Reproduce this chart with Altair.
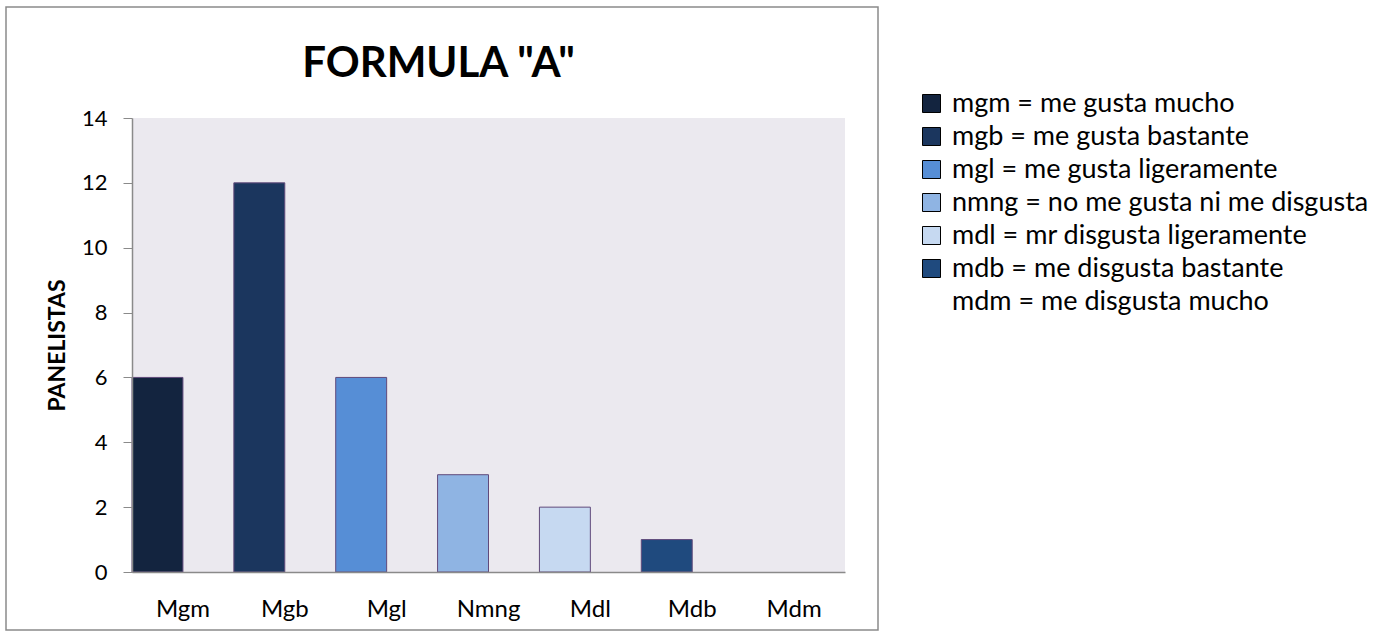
import altair as alt
import pandas as pd

categories = ["Mgm", "Mgb", "Mgl", "Nmng", "Mdl", "Mdb", "Mdm"]
values = [6, 12, 6, 3, 2, 1, 0]
legend_labels = [
    "mgm = me gusta mucho",
    "mgb = me gusta bastante",
    "mgl = me gusta ligeramente",
    "nmng = no me gusta ni me disgusta",
    "mdl = mr disgusta ligeramente",
    "mdb = me disgusta bastante",
    "mdm = me disgusta mucho",
]
colors = ["#13243f", "#1b365e", "#568ed6", "#8fb4e3", "#c6d9f1", "#1f4a7e", "#ffffff"]
y_ticks = [0, 2, 4, 6, 8, 10, 12, 14]

df = pd.DataFrame({
    "cat": categories,
    "val": values,
    "leg": legend_labels,
    "slot": ["a"] * len(categories),
})

FONT = "Lato"

bars = alt.Chart(df).mark_bar(stroke="#604a7b", strokeWidth=1).encode(
    x=alt.X("cat:N", sort=categories,
            scale=alt.Scale(paddingInner=0, paddingOuter=0),
            axis=alt.Axis(title=None, labelAngle=0, ticks=False, labelPadding=25,
                          labelFontSize=24, labelFont=FONT, labelColor="#000000",
                          domainColor="#8a8a8a", domainWidth=1.5, zindex=1)),
    xOffset=alt.XOffset("slot:N", scale=alt.Scale(domain=["a", "b"], paddingInner=0, paddingOuter=0)),
    y=alt.Y("val:Q", scale=alt.Scale(domain=[0, 14], nice=False),
            axis=alt.Axis(title="PANELISTAS", values=y_ticks, grid=False, tickSize=9,
                          tickColor="#8a8a8a", domainColor="#8a8a8a", domainWidth=1.5,
                          labelFontSize=22, labelFont=FONT, labelColor="#000000", labelPadding=16,
                          titleFont=FONT, titleFontSize=23, titleFontWeight="bold",
                          titleColor="#000000", titleX=-68, titleY=227,
                          titleBaseline="alphabetic", zindex=1)),
    strokeOpacity=alt.condition("datum.val > 0", alt.value(1), alt.value(0)),
    color=alt.Color("leg:N", sort=legend_labels,
                    scale=alt.Scale(domain=legend_labels, range=colors),
                    legend=alt.Legend(title=None, orient="none", legendX=786, legendY=-28,
                                      symbolType="square", symbolSize=324,
                                      symbolStrokeColor={"expr": "datum.value === 'mdm = me disgusta mucho' ? 'transparent' : '#000000'"},
                                      symbolStrokeWidth=1,
                                      symbolOpacity=1,
                                      labelFont=FONT, labelFontSize=27, labelColor="#000000",
                                      labelLimit=600, rowPadding=5, labelOffset=7)),
)

frame = alt.Chart(pd.DataFrame({"d": [0]})).mark_rect(
    fill=None, stroke="#8a8a8a", strokeWidth=1.5, clip=False
).encode(
    x=alt.value(-126), x2=alt.value(746), y=alt.value(-111), y2=alt.value(512)
)

chart = alt.layer(bars, frame).properties(
    width=713, height=454,
    padding={"left": 132, "top": 118, "right": 540, "bottom": 65},
    autosize=alt.AutoSizeParams(type="none"),
    background="#ffffff",
    title=alt.TitleParams("FORMULA \"A\"", font=FONT, fontSize=42, fontWeight="bold",
                          color="#000000", anchor="middle", dx=-50, offset=-113,
                          frame="group", baseline="alphabetic"),
).configure_view(fill="#ebe9ef", stroke=None)

chart.save("out.html", embed_options={"renderer": "svg", "actions": False})
